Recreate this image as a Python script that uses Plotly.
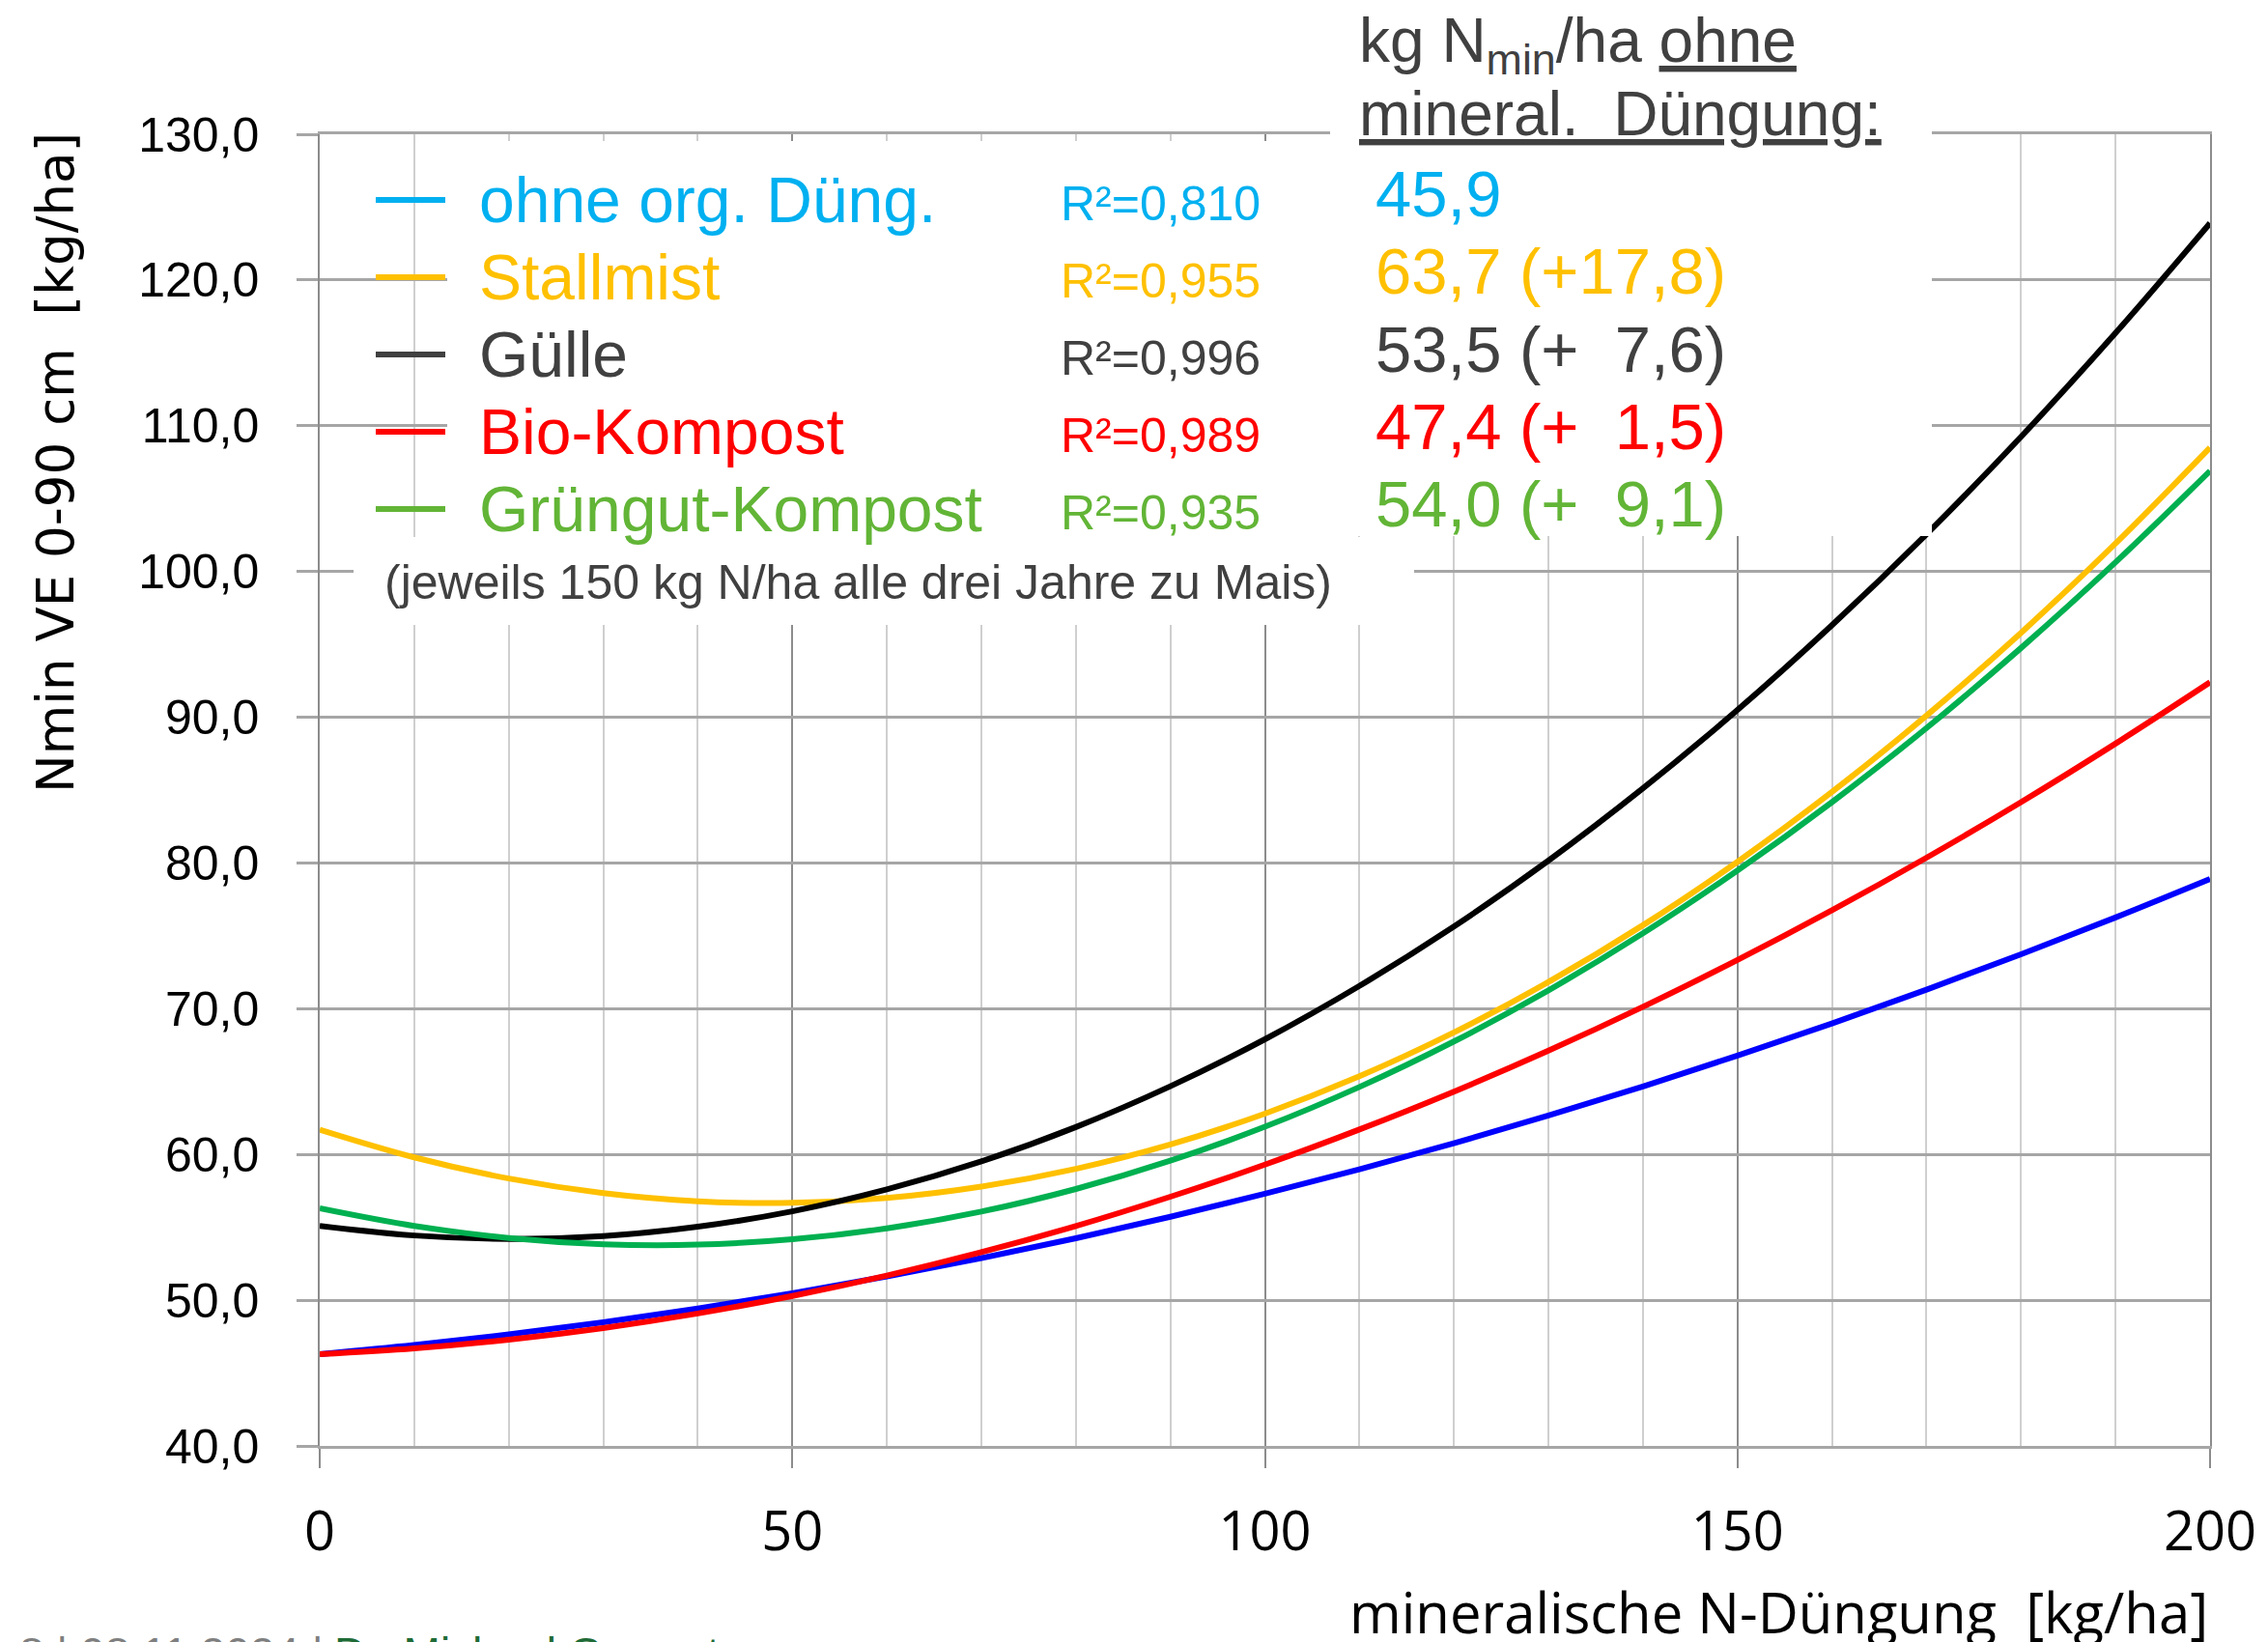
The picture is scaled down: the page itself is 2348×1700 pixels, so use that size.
import plotly.graph_objects as go

# ---------------- data ----------------
x_vals = [0, 10, 20, 30, 40, 50, 60, 70, 80, 90, 100, 110, 120, 130, 140, 150, 160, 170, 180, 190, 200]
ohne_org = [46.3, 46.92, 47.65, 48.49, 49.43, 50.48, 51.63, 52.89, 54.25, 55.72, 57.3,
            58.98, 60.77, 62.67, 64.67, 66.78, 68.99, 71.31, 73.73, 76.26, 78.9]
stallmist = [61.7, 59.8, 58.35, 57.35, 56.79, 56.68, 57.01, 57.79, 59.01, 60.68, 62.8,
             65.36, 68.37, 71.83, 75.73, 80.08, 84.87, 90.11, 95.79, 101.92, 108.5]
guelle = [55.1, 54.44, 54.2, 54.4, 55.04, 56.1, 57.6, 59.52, 61.88, 64.68, 67.9,
          71.56, 75.64, 80.16, 85.12, 90.5, 96.32, 102.56, 109.24, 116.36, 123.9]
bio_kompost = [46.3, 46.7, 47.29, 48.09, 49.09, 50.29, 51.69, 53.29, 55.09, 57.1, 59.3,
               61.71, 64.31, 67.12, 70.13, 73.34, 76.75, 80.36, 84.17, 88.19, 92.4]
gruengut = [56.3, 55.09, 54.27, 53.84, 53.81, 54.18, 54.93, 56.08, 57.63, 59.57, 61.9,
            64.63, 67.75, 71.26, 75.17, 79.48, 84.17, 89.26, 94.75, 100.63, 106.9]

series_names = ["ohne org. Düng.", "Stallmist", "Gülle", "Bio-Kompost", "Grüngut-Kompost"]
r2_labels = ["R²=0,810", "R²=0,955", "R²=0,996", "R²=0,989", "R²=0,935"]
nmin_labels = ["45,9", "63,7 (+17,8)", "53,5 (+\u00a0\u00a07,6)", "47,4 (+\u00a0\u00a01,5)", "54,0 (+\u00a0\u00a09,1)"]

y_ticks = [40, 50, 60, 70, 80, 90, 100, 110, 120, 130]
y_ticktext = ["40,0", "50,0", "60,0", "70,0", "80,0", "90,0", "100,0", "110,0", "120,0", "130,0"]
x_ticks = [0, 50, 100, 150, 200]

line_colors = ["#0000FF", "#FFC000", "#000000", "#FF0000", "#00B050"]
text_colors = ["#00B0F0", "#FFC000", "#404040", "#FF0000", "#62B536"]

# ---------------- layout geometry ----------------
OFF = 8  # page body margin of the rendered html
W, H = 2348 - OFF, 1700 - OFF
L, T = 331 - OFF, 139 - OFF
PLOT_R, PLOT_B = 2288 - OFF, 1497 - OFF
R, B = W - PLOT_R, H - PLOT_B
PW = PLOT_R - L
PH = PLOT_B - T


def xp(px):
    return (px - OFF - L) / PW


def yp(py):
    return (PLOT_B - (py - OFF)) / PH


ARIAL = "Liberation Sans, Arial, sans-serif"
XFONT = "Open Sans, Noto Sans, sans-serif"
YTFONT = "DejaVu Sans, Verdana, sans-serif"

fig = go.Figure()
all_series = [ohne_org, stallmist, guelle, bio_kompost, gruengut]
for name, ys, col in zip(series_names, all_series, line_colors):
    fig.add_trace(go.Scatter(x=x_vals, y=ys, mode="lines", name=name,
                             line=dict(color=col, width=6, shape="spline", smoothing=1.0),
                             showlegend=False, hoverinfo="skip"))

H_GRID = "#A6A6A6"
V_MAJOR = "#8C8C8C"
V_MINOR = "#CFCFCF"

fig.update_xaxes(range=[0, 200], tickvals=x_ticks, ticks="outside", ticklen=20, tickwidth=1.5,
                 tickcolor=V_MAJOR, showgrid=True, gridcolor=V_MAJOR, gridwidth=1.5,
                 minor=dict(dtick=10, showgrid=True, gridcolor=V_MINOR, gridwidth=1.5),
                 showline=True, linecolor=H_GRID, linewidth=2.5, mirror=True, zeroline=False,
                 tickfont=dict(family=XFONT, size=56, color="#000000"), ticklabelstandoff=18)
fig.update_yaxes(range=[40, 130], tickvals=y_ticks, ticktext=y_ticktext, ticks="outside", ticklen=22,
                 tickwidth=2.5, tickcolor=H_GRID, showgrid=True, gridcolor=H_GRID, gridwidth=2.5,
                 showline=True, linecolor=V_MAJOR, linewidth=1.5, mirror=True, zeroline=False,
                 tickfont=dict(family=ARIAL, size=50, color="#000000"), ticklabelstandoff=29)

shapes = []
# white text boxes of the slide overlay
for (x0, y0, x1, y1) in [(463, 146, 1377, 556), (1377, 0, 2000, 555), (366, 556, 1464, 647)]:
    shapes.append(dict(type="rect", xref="paper", yref="paper", x0=xp(x0), x1=xp(x1), y0=yp(y1), y1=yp(y0),
                       fillcolor="white", line=dict(width=0), layer="above"))

row_y = [207, 287, 367, 447, 527]
for ry, col in zip(row_y, text_colors):
    shapes.append(dict(type="line", xref="paper", yref="paper", x0=xp(389), x1=xp(461), y0=yp(ry), y1=yp(ry),
                       line=dict(color=col, width=6), layer="above"))

ann = []
for name, ry, col in zip(series_names, row_y, text_colors):
    ann.append(dict(text=name, x=xp(494), y=yp(ry), xanchor="left", yanchor="middle",
                    font=dict(family=ARIAL, size=66, color=col)))
for lab, ry, col in zip(r2_labels, row_y, text_colors):
    ann.append(dict(text=lab, x=xp(1307), y=yp(ry + 4), xanchor="right", yanchor="middle",
                    font=dict(family=ARIAL, size=50, color=col)))
for lab, ry, col in zip(nmin_labels, row_y, text_colors):
    ann.append(dict(text=lab, x=xp(1422), y=yp(ry - 6), xanchor="left", yanchor="middle",
                    font=dict(family=ARIAL, size=67, color=col)))

ann.append(dict(text="kg N<sub>min</sub>/ha <u>ohne</u>", x=xp(1405), y=yp(46), xanchor="left", yanchor="middle",
                font=dict(family=ARIAL, size=64, color="#404040")))
ann.append(dict(text="<u>mineral.\u00a0\u00a0Düngung:</u>", x=xp(1405), y=yp(118), xanchor="left", yanchor="middle",
                font=dict(family=ARIAL, size=64, color="#404040")))
ann.append(dict(text="(jeweils 150 kg N/ha alle drei Jahre zu Mais)", x=xp(396), y=yp(603), xanchor="left",
                yanchor="middle", font=dict(family=ARIAL, size=50, color="#404040")))

ann.append(dict(text="Nmin VE 0-90 cm\u00a0\u00a0[kg/ha]", x=xp(57), y=yp(479), xanchor="center", yanchor="middle",
                textangle=-90, font=dict(family=YTFONT, size=53, color="#000000")))
ann.append(dict(text="mineralische N-Düngung\u00a0\u00a0[kg/ha]", x=xp(2288), y=yp(1668), xanchor="right",
                yanchor="middle", font=dict(family=XFONT, size=58, color="#000000")))

ann.append(dict(text="8 | 08.11.2024 |", x=xp(337), y=yp(1684), xanchor="right", yanchor="top",
                font=dict(family=ARIAL, size=46, color="#7F7F7F")))
ann.append(dict(text="Dr. Michael Grunert", x=xp(344), y=yp(1684), xanchor="left", yanchor="top",
                font=dict(family=ARIAL, size=46, color="#1E6B36")))

for a in ann:
    a.update(xref="paper", yref="paper", showarrow=False)

fig.update_layout(width=W, height=H, margin=dict(l=L, r=R, t=T, b=B, autoexpand=False),
                  paper_bgcolor="white", plot_bgcolor="white", shapes=shapes, annotations=ann,
                  showlegend=False)

fig.write_html("out.html")
